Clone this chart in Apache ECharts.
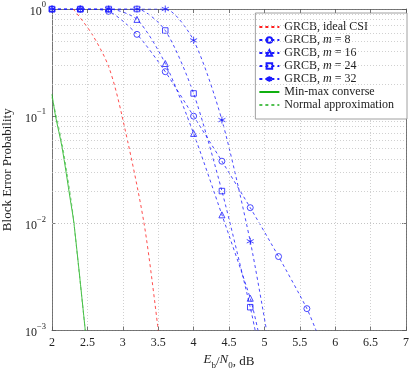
<!DOCTYPE html>
<html>
<head>
<meta charset="utf-8">
<script src="https://cdn.jsdelivr.net/npm/echarts@6/dist/echarts.min.js"></script>
<style>
  html, body { margin: 0; padding: 0; background: #fff; }
  #chart { width: 415px; height: 370px; }
</style>
</head>
<body>
<div id="chart"></div>
<script>
// values, Eb/N0 in dB vs block error probability
const xTicks = [2, 2.5, 3, 3.5, 4, 4.5, 5, 5.5, 6, 6.5, 7];
const yDecades = [0.001, 0.01, 0.1, 1];

const idealSnr = [2.3, 2.56, 2.8, 2.99, 3.3, 3.5];
const idealBler = [1, 0.59, 0.29, 0.1, 0.01, 0.001];

const m8Snr = [2.0, 2.4, 2.8, 3.2, 3.6, 4.0, 4.4, 4.8, 5.2, 5.6, 5.73];
const m8Bler = [1, 1, 0.95, 0.58, 0.26, 0.1, 0.038, 0.014, 0.0049, 0.0016, 0.001];

const m16Snr = [2.0, 2.4, 2.8, 3.2, 3.6, 4.0, 4.4, 4.8, 4.91];
const m16Bler = [1, 1, 1, 0.8, 0.31, 0.069, 0.012, 0.002, 0.001];

const m24Snr = [2.0, 2.4, 2.8, 3.2, 3.6, 4.0, 4.4, 4.8, 4.87];
const m24Bler = [1, 1, 1, 1, 0.63, 0.163, 0.02, 0.00165, 0.001];

const m32Snr = [2.0, 2.4, 2.8, 3.2, 3.6, 4.0, 4.4, 4.8, 5.03];
const m32Bler = [1, 1, 1, 1, 1, 0.51, 0.092, 0.0068, 0.001];

const converseSnr = [2.0, 2.05, 2.14, 2.26, 2.31, 2.47];
const converseBler = [0.16, 0.1, 0.052, 0.0164, 0.01, 0.001];

const normalSnr = [2.0, 2.06, 2.15, 2.27, 2.31, 2.47];
const normalBler = [0.15, 0.1, 0.052, 0.0164, 0.01, 0.001];

const names = ['GRCB, ideal CSI', 'GRCB, m = 8', 'GRCB, m = 16', 'GRCB, m = 24',
  'GRCB, m = 32', 'Min-max converse', 'Normal approximation'];

const serif = 'Liberation Serif';
const blue = '#1a1aff';
const red = '#ff2020';
const green = '#10b010';
const none = 'rgba(0,0,0,0)';

// minor log grid: 2..9 times each decade
const minorTicks = [];
for (let d = 0; d < yDecades.length - 1; d++) {
  for (let k = 2; k <= 9; k++) minorTicks.push(+(yDecades[d] * k).toPrecision(3));
}

function pts(xs, ys) {
  return xs.map((x, i) => ys[i] <= 0.001
    ? { value: [x, ys[i]], symbol: 'none' }
    : [x, ys[i]]);
}

const star = 'path://M0,-6L0,6M-5.2,-3L5.2,3M-5.2,3L5.2,-3';

function blueSeries(name, xs, ys, symbol, size) {
  return {
    name: name, type: 'line', data: pts(xs, ys),
    symbol: symbol, symbolSize: size, smooth: 0.25,
    lineStyle: { color: blue, width: 0.8, type: [3, 3] },
    itemStyle: { color: none, borderColor: blue, borderWidth: 0.8 },
    z: 3
  };
}

function plainSeries(name, xs, ys, color, dash) {
  return {
    name: name, type: 'line', data: pts(xs, ys),
    symbol: 'none', smooth: 0.3,
    lineStyle: { color: color, width: 0.8, type: dash ? [3, 3] : 'solid' },
    itemStyle: { color: none, borderWidth: 0 },
    z: name === names[0] ? 2 : 4
  };
}

function supLabel(v) {
  const e = Math.round(Math.log10(v));
  return '{b|10}{s|' + (e < 0 ? '\u2212' + (-e) : e) + '}';
}

const chart = echarts.init(document.getElementById('chart'), null, { renderer: 'canvas' });

const frame = { show: true, lineStyle: { color: '#555', width: 0.8 } };
const tick = { show: true, inside: true, length: 4, lineStyle: { color: '#555', width: 0.8 } };
const dotted = { show: true, lineStyle: { color: '#c4c4c4', width: 0.8, type: [1, 2] } };

chart.setOption({
  animation: false,
  backgroundColor: '#fff',
  grid: { left: 52, right: 9, top: 9, bottom: 39.5, outerBoundsMode: 'none', containLabel: false },
  legend: {
    data: names,
    orient: 'vertical',
    right: 8, top: 13,
    padding: [8, 13, 8, 3],
    itemWidth: 20, itemHeight: 7, itemGap: 1,
    borderColor: '#888', borderWidth: 0.8,
    backgroundColor: '#fff',
    formatter: n => n.replace('m =', '{i|m} ='),
    textStyle: {
      fontFamily: serif, fontSize: 12, color: '#222', lineHeight: 10,
      rich: {
        i: { fontFamily: serif, fontSize: 12, fontStyle: 'italic', color: '#222', lineHeight: 10 }
      }
    }
  },
  xAxis: [{
    type: 'value', min: 2, max: 7, interval: 0.5,
    name: '{i|E}{sub|b}/{i|N}{sub|0}, dB',
    nameLocation: 'middle', nameGap: 20,
    nameTextStyle: {
      fontFamily: serif, fontSize: 13, color: '#222',
      rich: {
        i: { fontFamily: serif, fontSize: 13, fontStyle: 'italic', color: '#222', lineHeight: 17, verticalAlign: 'top' },
        sub: { fontFamily: serif, fontSize: 9, color: '#222', lineHeight: 17, verticalAlign: 'bottom' }
      }
    },
    axisLine: frame, axisTick: tick,
    axisLabel: { fontFamily: serif, fontSize: 12, color: '#222', margin: 6,
      formatter: v => String(v) },
    splitLine: dotted
  }, {
    type: 'value', min: 2, max: 7, interval: 0.5, position: 'top',
    axisLine: frame, axisTick: tick, axisLabel: { show: false }, splitLine: { show: false }
  }],
  yAxis: [{
    type: 'log', logBase: 10, min: 0.001, max: 1,
    name: 'Block Error Probability',
    nameLocation: 'middle', nameGap: 31,
    nameTextStyle: { fontFamily: serif, fontSize: 13, color: '#222' },
    axisLine: frame, axisTick: tick,
    axisLabel: {
      margin: 6, formatter: supLabel,
      rich: {
        b: { fontFamily: serif, fontSize: 12, color: '#222', lineHeight: 17, verticalAlign: 'bottom' },
        s: { fontFamily: serif, fontSize: 8.5, color: '#222', lineHeight: 17, verticalAlign: 'top' }
      }
    },
    splitLine: dotted
  }, {
    type: 'log', logBase: 10, min: 0.001, max: 1, position: 'right',
    axisLine: frame, axisTick: tick, axisLabel: { show: false }, splitLine: { show: false }
  }],
  series: [
    {
      name: 'minor grid', type: 'line', data: [], silent: true,
      markLine: {
        silent: true, symbol: 'none', label: { show: false },
        lineStyle: { color: '#c4c4c4', width: 0.8, type: [1, 2] },
        data: minorTicks.map(v => ({ yAxis: v }))
      },
      z: 1
    },
    plainSeries(names[0], idealSnr, idealBler, red, true),
    blueSeries(names[1], m8Snr, m8Bler, 'circle', 6),
    blueSeries(names[2], m16Snr, m16Bler, 'triangle', 6),
    blueSeries(names[3], m24Snr, m24Bler, 'rect', 5.5),
    blueSeries(names[4], m32Snr, m32Bler, star, 7),
    plainSeries(names[5], converseSnr, converseBler, green, false),
    plainSeries(names[6], normalSnr, normalBler, '#50c050', true)
  ]
});
</script>
</body>
</html>
